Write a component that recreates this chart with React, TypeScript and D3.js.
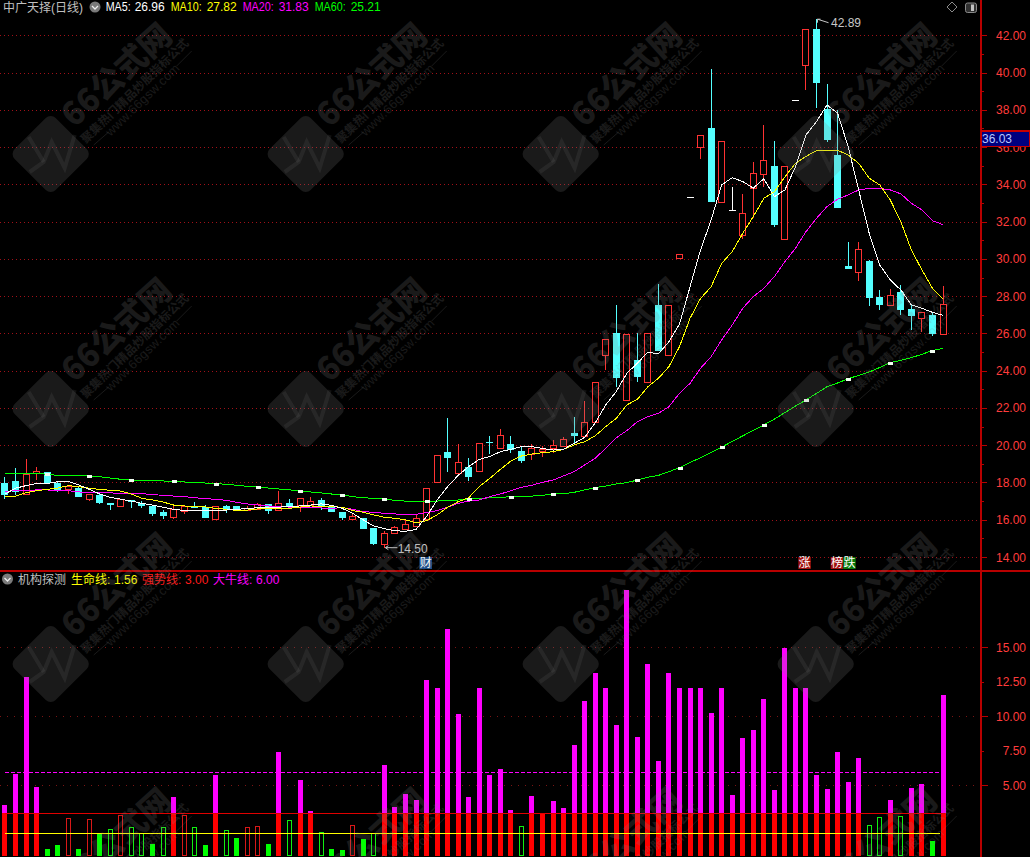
import React from "react";
import * as d3 from "d3";

const opens = [17.99,18.08,17.37,18.51,18.56,17.99,17.65,17.69,17.11,17.33,16.9,16.75,17.06,16.88,16.75,16.42,16.15,16.49,16.68,16.67,16.04,16.74,16.72,16.52,16.58,16.83,16.52,16.9,16.79,16.79,17.06,16.72,16.42,16.06,16.09,15.56,14.68,15.27,15.47,15.63,16.02,17.99,19.64,18.49,18.83,18.58,20.17,19.81,20.07,19.69,19.53,19.71,19.85,19.97,20.66,20.46,21.26,24.83,26.02,22.39,24.57,23.36,27.53,24.83,30.03,33.32,35.99,37.03,33.02,32.64,31.27,33.79,34.54,34.99,31.09,38.53,40.42,42.34,38.03,35.58,29.62,29.28,29.89,27.96,27.49,28.22,27.31,26.79,26.99,25.99];
const closes = [17.33,17.5,18.44,18.62,17.96,17.56,17.81,17.2,17.38,16.9,16.79,17.1,16.95,16.74,16.31,16.2,16.58,16.74,16.63,16.09,16.72,16.56,16.58,16.61,16.83,16.43,16.88,16.72,17.15,16.99,16.74,16.42,16.09,16.2,15.5,14.7,15.27,15.59,15.75,16.08,17.69,19.46,19.31,19.08,18.31,20.1,20.13,20.53,19.74,19.15,19.83,19.8,20,20.33,20.5,21.23,23.38,25.68,23.62,25.95,23.68,26,25.06,27.51,30.25,33.32,36.63,33.06,36.31,32.64,32.45,34.59,35.29,31.82,34.99,38.53,42.33,39.46,36.38,32.73,29.48,30.52,27.9,27.53,28.05,27.26,26.94,27.13,25.97,27.58];
const highs = [18.31,18.78,19.26,18.83,18.56,18.08,17.86,17.78,17.38,17.47,16.9,17.1,17.06,17,16.75,16.52,16.74,16.74,16.94,16.79,16.72,16.81,16.72,16.74,16.9,16.83,17.56,17.11,17.15,17.2,17.15,16.72,16.42,16.31,16.09,15.56,15.38,15.66,16.02,16.29,17.69,19.46,21.46,20.07,19.3,20.1,20.5,20.87,20.5,19.96,20.07,19.96,20.28,20.42,21.5,22.37,23.38,25.68,27.53,25.95,26,26,28.65,27.51,30.25,33.32,36.63,40.19,36.31,33.86,33.48,35.18,37.19,36.33,34.99,38.53,42.33,42.89,39.39,38,30.9,30.9,29.94,28.33,28.38,28.6,27.6,27.13,27.13,28.55];
const lows = [17.11,17.33,17.31,18.13,17.96,17.5,17.38,17.2,17,16.84,16.52,16.75,16.63,16.63,16.2,16.04,16.04,16.31,16.63,16.09,16.04,16.36,16.49,16.52,16.58,16.31,16.52,16.61,16.42,16.79,16.52,16.42,16,16.06,15.5,14.64,14.5,15.27,15.47,15.63,16.02,17.99,18.56,18.49,18.08,18.58,19.53,19.81,19.6,19.06,19.22,19.37,19.6,19.97,20.12,20.46,21.26,24.04,23.12,22.39,23.41,23.36,25.06,24.83,30.03,33.32,35.38,33.06,33.02,32.64,31.05,32.2,33.86,31.7,31.09,38.53,39.08,38.12,36.28,32.73,29.48,28.81,27.47,27.26,27.49,26.99,26.18,26.09,25.88,25.99];

const ma5 = [17.38,17.69,17.83,17.95,17.95,18.04,18.06,17.87,17.63,17.38,17.2,17.1,17,16.88,16.79,16.67,16.56,16.5,16.49,16.49,16.52,16.52,16.56,16.6,16.65,16.67,16.68,16.7,16.74,16.79,16.85,16.77,16.61,16.34,15.99,15.66,15.52,15.41,15.38,15.48,16.17,17.06,17.78,18.38,18.85,19.24,19.39,19.65,19.78,19.92,19.92,19.83,19.74,19.78,20.1,20.42,21.2,22.16,22.88,23.86,24.4,25,24.9,25.56,26.5,28.5,30.48,32.09,33.97,34.36,34.15,33.8,34.3,33.34,33.7,34.95,36.65,37.37,38.26,37.82,36.03,33.7,31.37,29.67,28.87,28.33,27.53,27.35,27.13,26.97];
const ma10 = [17.24,17.27,17.45,17.56,17.63,17.7,17.83,17.78,17.69,17.63,17.58,17.54,17.38,17.15,17.06,16.95,16.79,16.74,16.7,16.69,16.61,16.56,16.5,16.52,16.58,16.6,16.61,16.61,16.68,16.74,16.72,16.7,16.67,16.49,16.4,16.26,16.13,16.08,15.99,15.84,15.95,16.26,16.67,16.97,17.18,17.78,18.22,18.7,19.15,19.42,19.53,19.6,19.65,19.78,20.01,20.19,20.5,21,21.44,22.16,22.46,23.14,23.59,24.22,25.29,26.81,27.88,28.5,29.76,30.39,31.37,32.27,33.25,33.6,34.4,35.13,35.5,35.81,35.83,35.83,35.58,35.13,34.33,33.97,33.16,32,30.48,29.41,28.42,27.84];
const ma20 = [17.52,17.56,17.56,17.6,17.6,17.56,17.56,17.49,17.47,17.44,17.44,17.42,17.42,17.4,17.35,17.31,17.27,17.24,17.18,17.13,17.1,17.04,16.93,16.85,16.79,16.74,16.7,16.68,16.65,16.65,16.63,16.61,16.65,16.56,16.43,16.4,16.34,16.31,16.29,16.29,16.38,16.49,16.67,16.88,17,17.06,17.24,17.38,17.56,17.74,17.85,18.01,18.13,18.35,18.58,18.94,19.3,19.83,20.4,20.78,21.26,21.53,21.71,22.07,22.79,23.32,24.13,24.75,25.65,26.45,27.35,27.97,28.42,29.05,29.85,30.57,31.46,32.18,32.81,33.2,33.43,33.7,33.79,33.79,33.7,33.49,32.98,32.63,32.05,31.84];
const ma60 = [18.49,18.49,18.49,18.49,18.44,18.38,18.38,18.35,18.35,18.31,18.24,18.17,18.13,18.1,18.08,18.08,18.06,18.03,17.99,17.97,17.94,17.9,17.85,17.79,17.76,17.7,17.65,17.6,17.56,17.49,17.44,17.38,17.33,17.24,17.18,17.15,17.11,17.04,17,16.99,17,17,17.04,17.06,17.11,17.13,17.18,17.2,17.24,17.27,17.27,17.31,17.38,17.4,17.47,17.6,17.72,17.81,17.92,17.99,18.13,18.28,18.38,18.58,18.8,19.07,19.33,19.62,19.9,20.2,20.5,20.8,21.09,21.4,21.75,22.1,22.43,22.78,23.14,23.34,23.57,23.75,23.93,24.17,24.43,24.55,24.7,24.88,25.08,25.2];

const signal = [3.57,5.82,12.85,4.88,0.38,0.67,2.6,0.38,2.53,1.52,1.81,2.82,1.95,1.52,0.74,1.95,4.15,2.82,1.95,0.67,5.74,1.74,1.18,1.95,2.02,0.74,7.41,2.46,5.38,3.14,1.59,0.38,0.31,2.1,1.11,1.52,6.47,3.43,4.37,3.93,12.63,12.05,16.32,10.17,4.15,12.05,5.74,6.18,3.21,2.02,4.22,3,3.86,3.35,7.92,11.11,13.14,12.05,9.37,19.15,8.5,13.79,6.76,13.14,12.05,12.05,12.05,10.24,12.05,4.3,8.43,9.01,11.25,4.66,14.95,12.05,12.05,5.74,4.73,7.41,5.24,6.98,2.1,2.68,3.93,2.75,4.8,5.09,0.96,11.54];
// s = filled green, g = outlined green, r = outlined red, m = red with magenta above
const signalKind = "mmmmssrsrsgrggsgmrgsmgsrrsmgmmgssrsgmmmmmmmmmmmmmgmmmmmmmmmmmmmmmmmmmmmmmmmmmmmmmmggmgmmsm";

const priceTicks = d3.range(14, 43, 2);
const priceMinor = d3.range(15, 43, 2);
const signalGrid = [15, 10, 5];
const signalTicks = [15, 12.5, 10, 7.5, 5];
const maLegend = [
  { name: "MA5:", value: "26.96", color: "#ffffff", x: 105.7, vx: 134.7, w: 25 },
  { name: "MA10:", value: "27.82", color: "#ffff00", x: 170.7, vx: 206.7, w: 31 },
  { name: "MA20:", value: "31.83", color: "#ff00ff", x: 242.7, vx: 278.7, w: 31 },
  { name: "MA60:", value: "25.21", color: "#00ff00", x: 314.7, vx: 350.7, w: 31 },
];
const lowerLegend = [
  { name: "生命线:", value: "1.56", color: "#ffff00", x: 71, vx: 114 },
  { name: "强势线:", value: "3.00", color: "#ff1a1a", x: 142, vx: 185 },
  { name: "大牛线:", value: "6.00", color: "#ff00ff", x: 213, vx: 256 },
];
const lastPrice = "36.03";
const wmColumns = [50.7, 305.7, 560.7, 815.7];
const wmRows = [154, 409, 664, 919];

const W = 1030, H = 857, AXIS = 980.5;
const FONT = '"Liberation Sans","Noto Sans CJK SC",sans-serif';
const CJK = '"Noto Sans CJK SC",sans-serif';

const x = d3.scaleLinear().domain([0, 89]).range([4.95, 943]);
const y = d3.scaleLinear().domain([14, 42]).range([557, 35.3]);
const yLow = d3.scaleLinear().domain([0, 15]).range([854.3, 647.3]);
const UP = "#ff3232", DOWN = "#54ffff";
const px = (v: number) => Math.round(v) + 0.5;

const linePath = d3.line<number>().x((_, i) => x(i)).y((d) => y(d));

function Watermark({ cx, cy }: { cx: number; cy: number }) {
  return (
    <g transform={`translate(${cx},${cy})`}>
      <rect x={-29} y={-29} width={58} height={58} rx={7} transform="rotate(45)" fill="#808080" opacity={0.2} />
      <g fill="none" stroke="#808080" strokeOpacity={0.13} strokeWidth={4}>
        <path d="M-21,18L-7,8L1,-12L14,14L24,-19" />
        <path d="M-22,-17L-7,8" />
      </g>
      <g fill="#808080" opacity={0.2}>
        <text transform="translate(64,-81) rotate(-42)" textAnchor="middle" dominantBaseline="central" fontFamily={CJK} fontWeight={900} fontSize={32}>66公式网</text>
        <text transform="translate(83,-64) rotate(-44)" textAnchor="middle" dominantBaseline="central" fontFamily={CJK} fontWeight={700} fontSize={12}>聚集热门精品炒股指标公式</text>
        <text transform="translate(92,-54) rotate(-44)" textAnchor="middle" dominantBaseline="central" fontFamily={FONT} fontSize={12.5} letterSpacing={0.4}>www.66gsw.com</text>
      </g>
      <g stroke="#808080" strokeOpacity={0.2}>
        <line x1={43} y1={-9} x2={58} y2={-22} />
        <line x1={126} y1={-88} x2={141} y2={-103} />
      </g>
    </g>
  );
}

function Chevron({ cx, cy }: { cx: number; cy: number }) {
  return (
    <g>
      <circle cx={cx} cy={cy} r={5.5} fill="#7a7a7a" />
      <path d={`M${cx - 3},${cy - 1}L${cx},${cy + 2}L${cx + 3},${cy - 1}`} fill="none" stroke="#eeeeee" strokeWidth={1.3} />
    </g>
  );
}

function Badge({ bx, ch, fill, w = 12.5 }: { bx: number; ch: string; fill: string; w?: number }) {
  return (
    <g>
      <rect x={bx} y={557} width={w} height={12} fill={fill} />
      <text x={bx + w / 2} y={567.3} textAnchor="middle" fill="#ffffff" fontFamily={CJK} fontSize={12}>{ch}</text>
    </g>
  );
}

export default function App() {
  return (
    <svg
      width={W}
      height={H}
      viewBox={`0 0 ${W} ${H}`}
      style={{ position: "fixed", left: 0, top: 0, display: "block", background: "#000" }}
    >
      <rect width={W} height={H} fill="#000" />

      {/* grid */}
      <g shapeRendering="crispEdges">
        {priceTicks.map((t) => (
          <line key={t} x1={0} x2={AXIS} y1={px(y(t))} y2={px(y(t))} stroke="#a01018" strokeDasharray="1 3" />
        ))}
        {signalGrid.map((t) => (
          <line key={t} x1={0} x2={AXIS} y1={px(yLow(t))} y2={px(yLow(t))} stroke="#7a1414" strokeDasharray="1 6" />
        ))}
      </g>

      {/* candles */}
      <g shapeRendering="crispEdges">
        {opens.map((o, i) => {
          const c = closes[i];
          const left = Math.round(x(i) - 2.5) - 1;
          const mid = left + 3.5;
          const top = y(Math.max(o, c));
          const bottom = y(Math.min(o, c));
          const doji = o === c;
          const color = doji ? "#ffffff" : c > o ? UP : DOWN;
          return (
            <g key={i}>
              <line x1={mid} x2={mid} y1={y(highs[i])} y2={y(lows[i])} stroke={color} />
              {doji ? (
                <rect x={left} y={Math.round(top)} width={7} height={1} fill={color} />
              ) : c > o ? (
                <rect x={left + 0.5} y={Math.round(top) + 0.5} width={6} height={Math.max(1, Math.round(bottom - top))} fill="#000" stroke={color} />
              ) : (
                <rect x={left} y={Math.round(top)} width={7} height={Math.max(1, Math.round(bottom - top))} fill={color} />
              )}
            </g>
          );
        })}
      </g>

      {/* moving averages */}
      <g fill="none" strokeWidth={1} shapeRendering="crispEdges">
        <path d={linePath(ma60) as string} stroke="#00ff00" />
        <path d={linePath(ma20) as string} stroke="#ff00ff" />
        <path d={linePath(ma10) as string} stroke="#ffff00" />
        <path d={linePath(ma5) as string} stroke="#ffffff" />
      </g>
      <g shapeRendering="crispEdges">
        {ma60.map((v, i) =>
          i % 4 === 0 && i > 0 ? (
            <rect key={i} x={Math.round(x(i)) - 2.5} y={Math.round(y(v)) - 1.5} width={5} height={3} fill="#f2fff2" />
          ) : null
        )}
      </g>

      {/* extreme price notes */}
      <g stroke="#c8c8c8" fill="none">
        <path d={`M${x(77) + 1},${y(42.89) + 0.5}L${x(77) + 12},${y(42.89) + 4}`} />
        <path d={`M${x(77) + 1},${y(42.89) + 0.5}L${x(77) + 4},${y(42.89) + 0.5}M${x(77) + 1},${y(42.89) + 0.5}L${x(77) + 1},${y(42.89) + 4}`} />
        <path d={`M${x(36) + 1},${y(14.5)}L${x(36) + 13},${y(14.5)}M${x(36) + 1},${y(14.5)}L${x(36) + 4},${y(14.5) - 2}M${x(36) + 1},${y(14.5)}L${x(36) + 4},${y(14.5) + 2}`} />
      </g>
      <text x={831} y={27.3} fill="#c8c8c8" fontFamily={FONT} fontSize={12}>42.89</text>
      <text x={397.7} y={552.7} fill="#c8c8c8" fontFamily={FONT} fontSize={12}>14.50</text>

      {/* badges */}
      <Badge bx={419.4} ch="财" fill="#1c4f8c" />
      <Badge bx={798.3} ch="涨" fill="#a01010" />
      <Badge bx={830.7} ch="榜" fill="#a01010" />
      <Badge bx={843.2} ch="跌" fill="#0a7a0a" />

      {/* signal panel */}
      <line x1={x(0)} x2={x(89) - 2} y1={px(yLow(6))} y2={px(yLow(6))} stroke="#ff00ff" strokeDasharray="4 2" shapeRendering="crispEdges" />
      <g shapeRendering="crispEdges">
        {signal.map((v, i) => {
          const left = Math.round(x(i) - 2.5);
          const base = 856;
          const kind = signalKind[i];
          const top = yLow(v);
          if (kind === "m") {
            return (
              <g key={i}>
                <rect x={left} y={top} width={5} height={Math.max(0, yLow(3) - top)} fill="#ff00ff" />
                <rect x={left} y={yLow(3)} width={5} height={base - yLow(3)} fill="#ff0000" />
              </g>
            );
          }
          if (kind === "s") {
            return <rect key={i} x={left} y={top} width={5} height={base - top} fill="#00ff00" />;
          }
          return (
            <rect key={i} x={left + 0.5} y={Math.round(top) + 0.5} width={4} height={base - Math.round(top) - 1} fill="#000" stroke={kind === "g" ? "#10f010" : "#d81818"} />
          );
        })}
      </g>
      <g shapeRendering="crispEdges">
        <line x1={x(0)} x2={x(89) + 2} y1={px(yLow(3))} y2={px(yLow(3))} stroke="#e00000" />
        <line x1={x(0)} x2={x(89) - 3} y1={px(yLow(1.56))} y2={px(yLow(1.56))} stroke="#ffff00" />
      </g>

      {/* frame and axes */}
      <g shapeRendering="crispEdges" stroke="#b80000">
        <line x1={0} x2={W} y1={570.5} y2={570.5} strokeWidth={2} />
        <line x1={AXIS} x2={AXIS} y1={0} y2={H} strokeWidth={2} />
        {priceTicks.map((t) => (
          <line key={t} x1={AXIS} x2={987} y1={px(y(t))} y2={px(y(t))} />
        ))}
        {priceMinor.map((t) => (
          <line key={t} x1={AXIS} x2={984} y1={px(y(t))} y2={px(y(t))} />
        ))}
        {signalTicks.map((t, i) => (
          <line key={t} x1={AXIS} x2={i % 2 === 0 ? 987.5 : 984} y1={px(yLow(t))} y2={px(yLow(t))} />
        ))}
      </g>
      <g fill="#ff3c3c" fontFamily={FONT} fontSize={12} textAnchor="end">
        {priceTicks.map((t) => (
          <text key={t} x={1026} y={y(t) + 4.5}>{t.toFixed(2)}</text>
        ))}
        {signalTicks.map((t) => (
          <text key={t} x={1026} y={yLow(t) + 4.5}>{t.toFixed(2)}</text>
        ))}
      </g>
      <rect x={981.5} y={131} width={48} height={15.5} fill="#000080" stroke="#c80000" strokeWidth={1.5} shapeRendering="crispEdges" />
      <text x={982} y={142.5} fill="#b8c8ff" fontFamily={FONT} fontSize={12}>{lastPrice}</text>

      {/* headers */}
      <text x={3} y={11.5} fill="#c0c0c0" fontFamily={FONT} fontSize={12}>中广天择(日线)</text>
      <Chevron cx={95} cy={7} />
      {maLegend.map((m) => (
        <g key={m.name} fill={m.color} fontFamily={FONT} fontSize={12}>
          <text x={m.x} y={11} textLength={m.w} lengthAdjust="spacingAndGlyphs">{m.name}</text>
          <text x={m.vx} y={11}>{m.value}</text>
        </g>
      ))}
      <Chevron cx={7.5} cy={579} />
      <text x={18} y={583.5} fill="#c0c0c0" fontFamily={FONT} fontSize={12}>机构探测</text>
      {lowerLegend.map((m) => (
        <g key={m.name} fill={m.color} fontFamily={FONT} fontSize={12}>
          <text x={m.x} y={583.5}>{m.name}</text>
          <text x={m.vx} y={583.5}>{m.value}</text>
        </g>
      ))}
      <path d="M952,2L957,7L952,12L947,7Z" fill="none" stroke="#8a8a8a" />
      <rect x={965.5} y={3} width={11} height={9.5} rx={2} fill="#303030" stroke="#8a8a8a" />
      <rect x={971} y={4.5} width={3} height={6.5} fill="#c0c0c0" />

      {/* watermark overlay */}
      {wmRows.map((cy) => wmColumns.map((cx) => <Watermark key={`${cx}-${cy}`} cx={cx} cy={cy} />))}
    </svg>
  );
}
